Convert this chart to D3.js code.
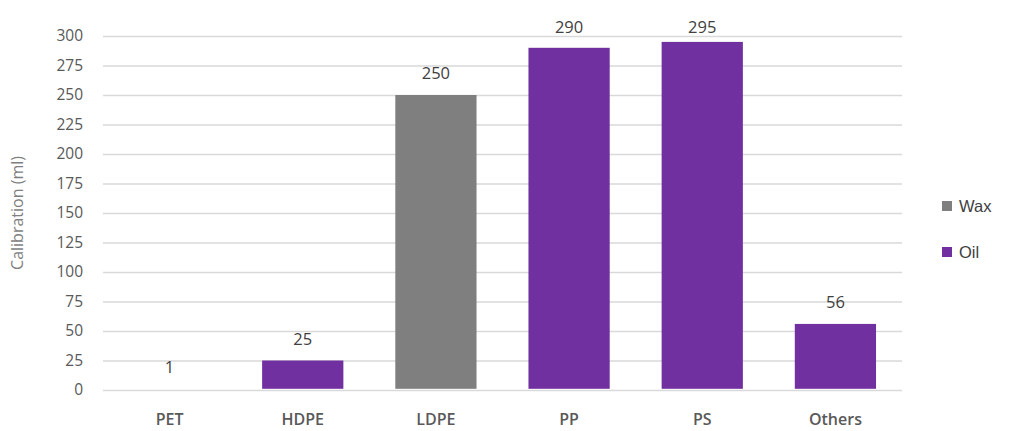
<!DOCTYPE html>
<html><head><meta charset="utf-8">
<script src="https://cdn.jsdelivr.net/npm/d3@7"></script>
<style>body{margin:0;background:#fff}svg{display:block}</style>
</head><body><svg id="c" width="1011" height="431"></svg>
<script>
const categories = ["PET","HDPE","LDPE","PP","PS","Others"];
const values = [1,25,250,290,295,56];
const seriesOf = ["Oil","Oil","Wax","Oil","Oil","Oil"];
const legendSeries = ["Wax","Oil"];
const yTicks = [0,25,50,75,100,125,150,175,200,225,250,275,300];
const colors = {Wax:"#7f7f7f", Oil:"#7030a0"};

const svg = d3.select("#c");
const L=103, R=902, T=36, B=390;
const x = d3.scaleBand().domain(categories).range([L,R]).paddingInner(0.39).paddingOuter(0.195);
const y = d3.scaleLinear().domain([0,300]).range([B,T]);
const font = "Open Sans, Liberation Sans, sans-serif";

svg.append("g").selectAll("line").data(yTicks).join("line")
  .attr("x1",L).attr("x2",R).attr("y1",d=>y(d)+0.5).attr("y2",d=>y(d)+0.5)
  .attr("stroke","#d9d9d9").attr("stroke-width",1.5);

const yAxis = svg.append("g").attr("transform",`translate(${L},0)`)
  .call(d3.axisLeft(y).tickValues(yTicks).tickSize(0).tickPadding(20));
yAxis.select(".domain").remove();
yAxis.selectAll("text").attr("font-family",font).attr("font-size",15.5).attr("fill","#595959");

svg.append("g").selectAll("rect").data(categories).join("rect")
  .attr("x",d=>x(d)).attr("width",x.bandwidth())
  .attr("y",(d,i)=>y(values[i])).attr("height",(d,i)=>Math.max(0,y(0)-y(values[i])-1.2))
  .attr("fill",(d,i)=>colors[seriesOf[i]]);

svg.append("g").selectAll("text").data(categories).join("text")
  .attr("x",d=>x(d)+x.bandwidth()/2)
  .attr("y",(d,i)=>Math.max(y(values[i])-16, 33))
  .attr("text-anchor","middle").attr("font-family",font).attr("font-size",16.5).attr("fill","#404040")
  .text((d,i)=>values[i]);

const xAxis = svg.append("g").attr("transform",`translate(0,${B})`)
  .call(d3.axisBottom(x).tickSize(0).tickPadding(24));
xAxis.select(".domain").remove();
xAxis.selectAll("text").attr("font-family",font).attr("font-size",16).attr("font-weight","600").attr("fill","#595959");

svg.append("text").attr("transform",`translate(23,${(T+B)/2}) rotate(-90)`)
  .attr("text-anchor","middle").attr("font-family",font).attr("font-size",16).attr("fill","#7f7f7f")
  .text("Calibration (ml)");

const lg = svg.append("g").selectAll("g").data(legendSeries).join("g")
  .attr("transform",(d,i)=>`translate(942,${206+i*46})`);
lg.append("rect").attr("x",0).attr("y",-5).attr("width",10).attr("height",10).attr("fill",d=>colors[d]);
lg.append("text").attr("x",17).attr("y",6).attr("font-family","Liberation Sans, Arial, sans-serif")
  .attr("font-size",16.5).attr("fill","#404040").text(d=>d);
</script></body></html>
